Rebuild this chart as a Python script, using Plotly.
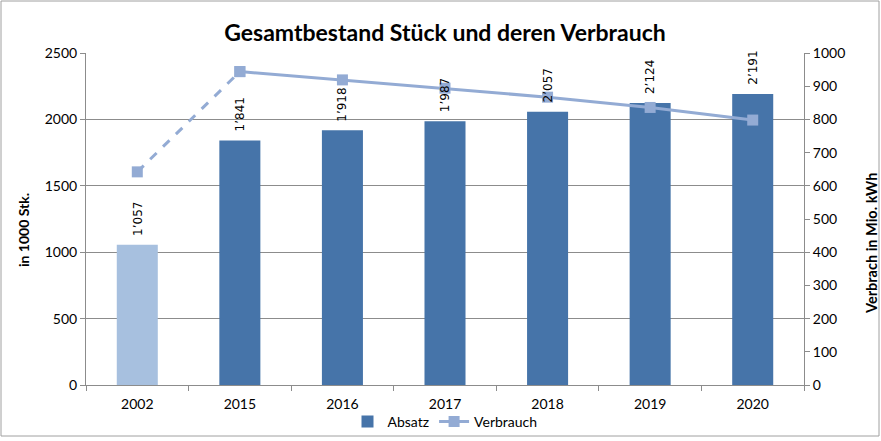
import plotly.graph_objects as go

years = ["2002", "2015", "2016", "2017", "2018", "2019", "2020"]
absatz = [1057, 1841, 1918, 1987, 2057, 2124, 2191]
verbrauch = [642, 944, 919, 894, 867, 836, 798]
labels = [f"{v:,}".replace(",", "’") for v in absatz]

DARK = "#4674A9"
LIGHT = "#A7C0DF"
LINE = "#93ABD4"
GRID = "#8C8C8C"
FONT = "Lato"

fig = go.Figure()
fig.add_trace(go.Bar(
    x=years[:1], y=absatz[:1], name="Absatz", showlegend=False,
    marker=dict(color=LIGHT, line=dict(width=0)),
))
fig.add_trace(go.Bar(
    x=years[1:], y=absatz[1:], name="Absatz",
    marker=dict(color=DARK, line=dict(width=0)),
))
fig.add_trace(go.Scatter(
    x=years[:2], y=verbrauch[:2], mode="lines+markers", showlegend=False,
    line=dict(color=LINE, width=3, dash="dash"),
    marker=dict(symbol="square", size=11, color=LINE), yaxis="y2",
))
fig.add_trace(go.Scatter(
    x=years[1:], y=verbrauch[1:], mode="lines+markers", name="Verbrauch",
    line=dict(color=LINE, width=3),
    marker=dict(symbol="square", size=11, color=LINE), yaxis="y2",
))

# category index positions for the value labels
for i, (v, lab) in enumerate(zip(absatz, labels)):
    fig.add_annotation(x=i, y=v, xref="x", yref="y", text=lab, textangle=-90,
                       showarrow=False, xanchor="center", yanchor="bottom", yshift=7,
                       font=dict(family="DejaVu Sans", size=12, color="#000"))

l, r, t, b = 86, 77, 53, 56
W, H = 881, 441
pw, ph = W - l - r, H - t - b

fig.update_layout(
    width=W, height=H, margin=dict(l=l, r=r, t=t, b=b, autoexpand=False),
    paper_bgcolor="white", plot_bgcolor="white",
    font=dict(family=FONT, size=14, color="#000"),
    barmode="overlay", bargap=0.6,
    title=dict(text="<b>Gesamtbestand Stück und deren Verbrauch</b>", x=(l + pw / 2) / W, xanchor="center",
               y=1 - 33 / H, yanchor="middle", font=dict(family=FONT, size=23, color="#000")),
    xaxis=dict(type="category", categoryorder="array", categoryarray=years,
               range=[-0.5, len(years) - 0.5],
               showline=True, linecolor=GRID, linewidth=1, ticks="outside",
               tickson="boundaries", ticklen=5, tickcolor=GRID, showgrid=False,
               tickfont=dict(size=14), automargin=False, ticklabelstandoff=6),
    yaxis=dict(range=[0, 2500], dtick=500, showline=True, linecolor=GRID, linewidth=1,
               ticks="outside", ticklen=5, tickcolor=GRID, gridcolor=GRID, gridwidth=1,
               zeroline=False, tickfont=dict(size=14), automargin=False),
    yaxis2=dict(range=[0, 1000], dtick=100, overlaying="y", side="right", showline=True,
                linecolor=GRID, linewidth=1, ticks="outside", ticklen=5, tickcolor=GRID,
                showgrid=False, zeroline=False, tickfont=dict(size=14), automargin=False),
    legend=dict(orientation="h", x=0.5, xanchor="center", y=-(422 - (H - b)) / ph,
                yanchor="middle", font=dict(size=14), tracegroupgap=0,
                bgcolor="rgba(0,0,0,0)"),
    showlegend=True,
)

fig.add_annotation(text="<b>in 1000 Stk.</b>", xref="paper", yref="paper",
                   x=-(l - 23) / pw, y=(H - b - 230) / ph, textangle=-90, showarrow=False,
                   xanchor="center", yanchor="middle", font=dict(size=14))
fig.add_annotation(text="<b>Verbrach in Mio. kWh</b>", xref="paper", yref="paper",
                   x=1 + (871 - (l + pw)) / pw, y=(H - b - 244) / ph, textangle=-90, showarrow=False,
                   xanchor="center", yanchor="middle", font=dict(size=14.5))

fig.add_shape(type="rect", xref="paper", yref="paper",
              x0=(1 - l) / pw, x1=(W - 2 - l) / pw,
              y0=(H - b - (H - 5)) / ph, y1=(H - b - 1) / ph,
              line=dict(color="#A0A0A0", width=1), layer="below")

fig.write_html("out.html", config={"displayModeBar": False},
               post_script="document.body.style.margin='0';document.body.style.overflow='hidden';")
